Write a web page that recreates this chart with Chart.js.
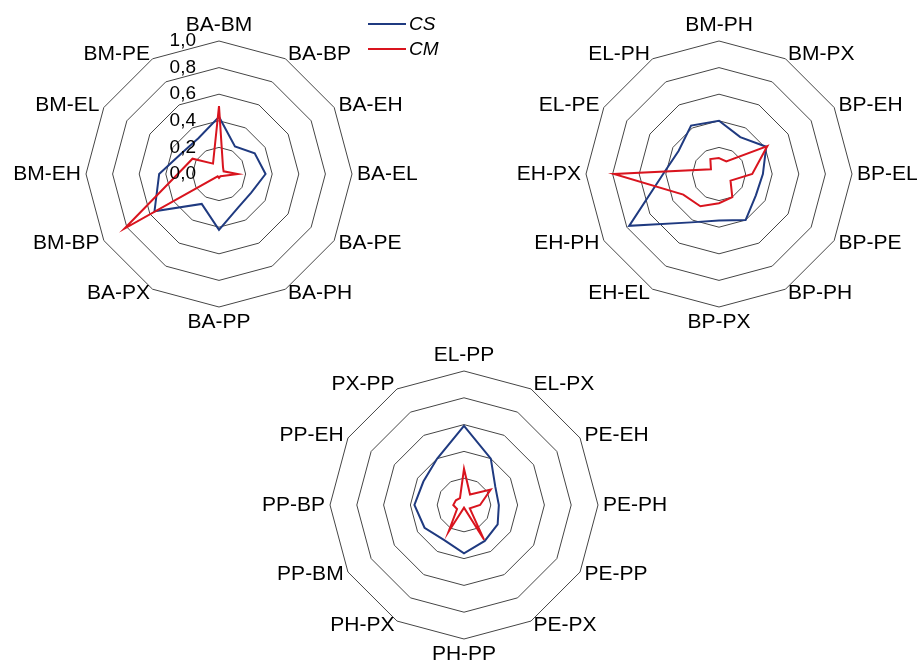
<!DOCTYPE html>
<html>
<head>
<meta charset="utf-8">
<script src="https://cdn.jsdelivr.net/npm/chart.js@4/dist/chart.umd.min.js"></script>
<style>
  html, body { margin: 0; padding: 0; background: #fff; }
  body { position: relative; width: 921px; height: 667px; overflow: hidden; }
  canvas { position: absolute; }
  .key { position: absolute; height: 0; border-top: 2px solid; width: 38px; }
  .keytext { position: absolute; font-family: "Liberation Sans", Arial, sans-serif;
             font-style: italic; font-size: 19px; line-height: 20px; color: #000; }
</style>
</head>
<body>
<canvas id="radarA"></canvas>
<canvas id="radarB"></canvas>
<canvas id="radarC"></canvas>

<div class="key" id="keyCS"></div><div class="keytext" id="labCS"></div>
<div class="key" id="keyCM"></div><div class="keytext" id="labCM"></div>

<script>
// Pair labels for each of the three panels (clockwise from the top)
const categoriesA = ['BA-BM', 'BA-BP', 'BA-EH', 'BA-EL', 'BA-PE', 'BA-PH', 'BA-PP', 'BA-PX', 'BM-BP', 'BM-EH', 'BM-EL', 'BM-PE'];
const categoriesB = ['BM-PH', 'BM-PX', 'BP-EH', 'BP-EL', 'BP-PE', 'BP-PH', 'BP-PX', 'EH-EL', 'EH-PH', 'EH-PX', 'EL-PE', 'EL-PH'];
const categoriesC = ['EL-PP', 'EL-PX', 'PE-EH', 'PE-PH', 'PE-PP', 'PE-PX', 'PH-PP', 'PH-PX', 'PP-BM', 'PP-BP', 'PP-EH', 'PX-PP'];

// Series values per panel
const csA = [0.43, 0.24, 0.31, 0.35, 0.28, 0.29, 0.42, 0.26, 0.56, 0.45, 0.32, 0.31];
const cmA = [0.51, 0.06, 0.04, 0.14, 0.03, 0.02, 0.03, 0.02, 0.82, 0.31, 0.23, 0.09];

const csB = [0.40, 0.32, 0.41, 0.33, 0.32, 0.40, 0.35, 0.42, 0.78, 0.42, 0.35, 0.42];
const cmB = [0.12, 0.11, 0.42, 0.25, 0.10, 0.20, 0.22, 0.28, 0.31, 0.79, 0.07, 0.13];

const csC = [0.59, 0.40, 0.27, 0.26, 0.29, 0.31, 0.36, 0.30, 0.34, 0.37, 0.35, 0.40];
const cmC = [0.27, 0.09, 0.23, 0.12, 0.05, 0.30, 0.02, 0.23, 0.06, 0.08, 0.07, 0.06];

// Radial axis ticks (labels shown on the first panel only)
const tickValues = [0, 0.2, 0.4, 0.6, 0.8, 1.0];
const seriesNames = ['CS', 'CM'];

const COLORS = { CS: '#1F3A80', CM: '#D9141E' };
const FONT = '"Liberation Sans", Arial, sans-serif';

// Point labels placed next to each spoke end, Excel style
const pointLabelPlugin = {
  id: 'pairLabels',
  afterDraw(chart, args, opts) {
    const scale = chart.scales.r;
    const ctx = chart.ctx;
    const labels = chart.data.labels;
    ctx.save();
    ctx.fillStyle = '#000';
    ctx.font = '21px ' + FONT;
    labels.forEach((lab, i) => {
      const p = scale.getPointPosition(i, scale.drawingArea + 5);
      const deg = Math.round(i * 360 / labels.length);
      if (deg === 0) {
        ctx.textAlign = 'center'; ctx.textBaseline = 'bottom';
      } else if (deg === 180) {
        ctx.textAlign = 'center'; ctx.textBaseline = 'top';
      } else {
        ctx.textAlign = deg < 180 ? 'left' : 'right';
        ctx.textBaseline = 'middle';
      }
      ctx.fillText(lab, p.x, p.y);
    });

    if (opts && opts.showTicks) {
      ctx.font = '19px ' + FONT;
      ctx.textAlign = 'right';
      ctx.textBaseline = 'middle';
      tickValues.forEach(v => {
        const d = scale.getDistanceFromCenterForValue(v);
        ctx.fillText(v.toFixed(1).replace('.', ','), scale.xCenter - 23, scale.yCenter - d);
      });
    }
    ctx.restore();
  }
};

function makeRadar(id, cx, cy, R, labels, cs, cm, showTicks) {
  const W = 440, H = 350;
  const canvas = document.getElementById(id);
  canvas.width = W; canvas.height = H;
  canvas.style.left = (cx - W / 2) + 'px';
  canvas.style.top = (cy - H / 2) + 'px';
  const padX = W / 2 - R, padY = H / 2 - R;

  return new Chart(canvas, {
    type: 'radar',
    data: {
      labels: labels,
      datasets: [
        { label: seriesNames[0], data: cs, borderColor: COLORS.CS, borderWidth: 2,
          pointRadius: 0, fill: false, order: 1 },
        { label: seriesNames[1], data: cm, borderColor: COLORS.CM, borderWidth: 2,
          pointRadius: 0, fill: false, order: 0 }
      ]
    },
    options: {
      responsive: false,
      animation: false,
      devicePixelRatio: 1,
      layout: { padding: { left: padX, right: padX, top: padY, bottom: padY } },
      elements: { line: { tension: 0, borderJoinStyle: 'miter' } },
      plugins: {
        legend: { display: false },
        tooltip: { enabled: false },
        pairLabels: { showTicks: showTicks }
      },
      scales: {
        r: {
          min: 0, max: 1,
          ticks: { stepSize: 0.2, display: false },
          grid: { circular: false, color: '#454545', lineWidth: 1 },
          angleLines: { display: false },
          pointLabels: { display: false }
        }
      }
    },
    plugins: [pointLabelPlugin]
  });
}

makeRadar('radarA', 219, 174, 133, categoriesA, csA, cmA, true);
makeRadar('radarB', 719, 174, 133, categoriesB, csB, cmB, false);
makeRadar('radarC', 464, 505, 134, categoriesC, csC, cmC, false);

// Series key
function placeKey(name, y) {
  const line = document.getElementById('key' + name);
  line.style.left = '368px'; line.style.top = (y - 1) + 'px';
  line.style.borderColor = COLORS[name];
  const t = document.getElementById('lab' + name);
  t.textContent = name;
  t.style.left = '409px'; t.style.top = (y - 10) + 'px';
}
placeKey(seriesNames[0], 24);
placeKey(seriesNames[1], 49);
</script>
</body>
</html>
